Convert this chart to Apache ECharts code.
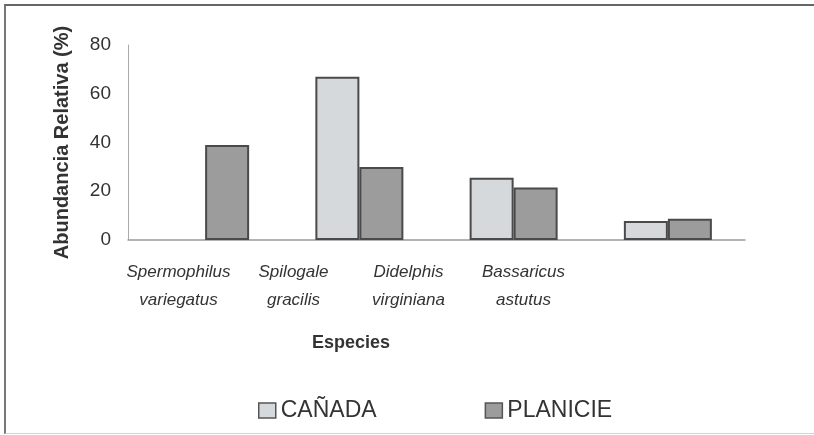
<!DOCTYPE html>
<html>
<head>
<meta charset="utf-8">
<script src="https://cdn.jsdelivr.net/npm/echarts@6/dist/echarts.min.js"></script>
<style>
  body { margin: 0; background: #fff; }
  .frame {
    position: absolute;
    left: 4px; top: 4px;
    width: 830px; height: 427px;
    border-top: 2px solid #666;
    border-left: 2px solid #777;
    border-bottom: 1px solid #d0d4d8;
  }
  #chart { position: absolute; left: 0; top: 0; width: 814px; height: 435px; }
</style>
</head>
<body>
<div class="frame"></div>
<div id="chart"></div>
<script>
  // especies y abundancia relativa (%)
  const especies = ['Spermophilus\nvariegatus', 'Spilogale\ngracilis', 'Didelphis\nvirginiana', 'Bassaricus\nastutus']
  const canada = [0, 67, 25.5, 7.8]
  const planicie = [39, 30, 21.5, 8.7]
  const yTicks = [0, 20, 40, 60, 80]

  let elem = echarts.init(document.getElementById('chart'))
  let font = '"Liberation Sans", Arial, sans-serif'
  let barBorder = { borderColor: '#4a4a4a', borderWidth: 2 }

  let option = {
    animation: false,
    backgroundColor: 'transparent',
    textStyle: { fontFamily: font, color: '#333' },
    legend: {
      left: 253,
      top: 394,
      icon: 'rect',
      itemWidth: 17,
      itemHeight: 15,
      itemGap: 108,
      textStyle: { fontSize: 23, color: '#333', fontFamily: font },
      data: [
        { name: 'CAÑADA', itemStyle: { color: '#d6d9db', borderColor: '#555', borderWidth: 1.5 } },
        { name: 'PLANICIE', itemStyle: { color: '#9c9c9c', borderColor: '#555', borderWidth: 1.5 } }
      ]
    },
    grid: [
      { left: 128, right: 69, top: 45, bottom: 195 },
      // etiquetas del eje x, más juntas que las barras (como en el original)
      { left: 121, width: 460, top: 45, bottom: 195 }
    ],
    xAxis: [
      {
        type: 'category',
        gridIndex: 0,
        data: especies,
        axisLine: { lineStyle: { color: '#9a9a9a', width: 1.5 } },
        axisTick: { show: false },
        axisLabel: { show: false }
      },
      {
        type: 'category',
        gridIndex: 1,
        data: especies,
        axisLine: { show: false },
        axisTick: { show: false },
        axisLabel: {
          interval: 0,
          fontSize: 17,
          fontStyle: 'italic',
          color: '#333',
          lineHeight: 28,
          margin: 18
        },
        name: 'Especies',
        nameLocation: 'middle',
        nameGap: 94,
        nameTextStyle: { fontSize: 18, fontWeight: 'bold', color: '#333' }
      }
    ],
    yAxis: [
      {
        type: 'value',
        gridIndex: 0,
        min: yTicks[0],
        max: yTicks[yTicks.length - 1],
        interval: 20,
        axisLine: { show: true, lineStyle: { color: '#aaa', width: 1 } },
        axisTick: { show: false },
        splitLine: { show: false },
        axisLabel: { fontSize: 19, color: '#333', margin: 17 },
        name: 'Abundancia Relativa (%)',
        nameLocation: 'middle',
        nameGap: 56,
        nameTextStyle: { fontSize: 20, fontWeight: 'bold', color: '#333' }
      },
      {
        type: 'value',
        gridIndex: 1,
        show: false
      }
    ],
    series: [
      {
        name: 'CAÑADA',
        type: 'bar',
        barWidth: 44,
        barGap: '0%',
        itemStyle: Object.assign({ color: '#d6d9db' }, barBorder),
        data: canada.map(v => (v === 0 ? null : v))
      },
      {
        name: 'PLANICIE',
        type: 'bar',
        barWidth: 44,
        barGap: '0%',
        itemStyle: Object.assign({ color: '#9c9c9c' }, barBorder),
        data: planicie
      }
    ]
  }
  elem.setOption(option)
</script>
</body>
</html>
